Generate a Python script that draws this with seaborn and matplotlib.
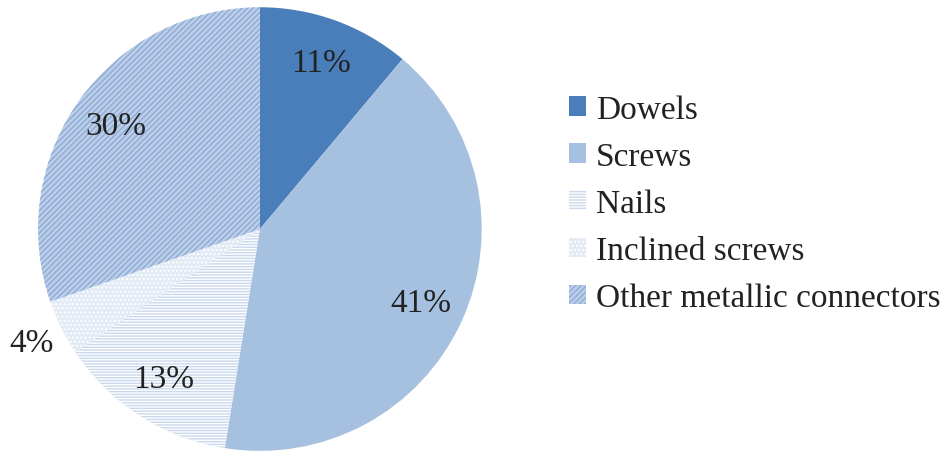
import numpy as np
import matplotlib
matplotlib.use("Agg")
import matplotlib.pyplot as plt
import seaborn as sns

# data
categories = ["Dowels", "Screws", "Nails", "Inclined screws", "Other metallic connectors"]
shares = [11, 41, 13, 4, 30]

face_colors = ["#4a7ebb", "#a6c0e0", "#c9d8ed", "#e2eaf5", "#bccfe8"]
hatch_colors = ["#4a7ebb", "#a6c0e0", "#ffffff", "#ffffff", "#8eaad6"]
hatches = [None, None, "------", "....", "//////"]

sns.set_theme(style="white")
plt.rcParams["font.family"] = ["Liberation Serif", "DejaVu Serif"]
plt.rcParams["hatch.linewidth"] = 1.0

fig = plt.figure(figsize=(9.52, 4.52), dpi=100)
ax = fig.add_axes([0.040, 0.0, 0.466, 0.982])

wedges, texts, autotexts = ax.pie(
    shares,
    colors=face_colors,
    startangle=90,
    counterclock=False,
    autopct="%.0f%%",
    pctdistance=0.8,
    wedgeprops=dict(linewidth=0),
    textprops=dict(fontsize=24, color="#222222"),
)

for w, h, hc in zip(wedges, hatches, hatch_colors):
    if h:
        w.set_hatch(h)
        w.set_edgecolor(hc)
        w.set_linewidth(0)

# small slice label goes outside
w = wedges[3]
mid = np.deg2rad((w.theta1 + w.theta2) / 2)
autotexts[3].set_position((1.15 * np.cos(mid), 1.15 * np.sin(mid)))

ax.set_aspect("equal")
ax.set_xlim(-1, 1)
ax.set_ylim(-1, 1)

leg = fig.legend(
    wedges, categories,
    loc="center left",
    bbox_to_anchor=(0.566, 0.547),
    frameon=False,
    fontsize=24,
    handlelength=0.52,
    handleheight=0.52,
    handletextpad=0.3,
    labelspacing=0.5,
)
for t in leg.get_texts():
    t.set_color("#222222")

fig.savefig("out.png", dpi=100, facecolor="white")
